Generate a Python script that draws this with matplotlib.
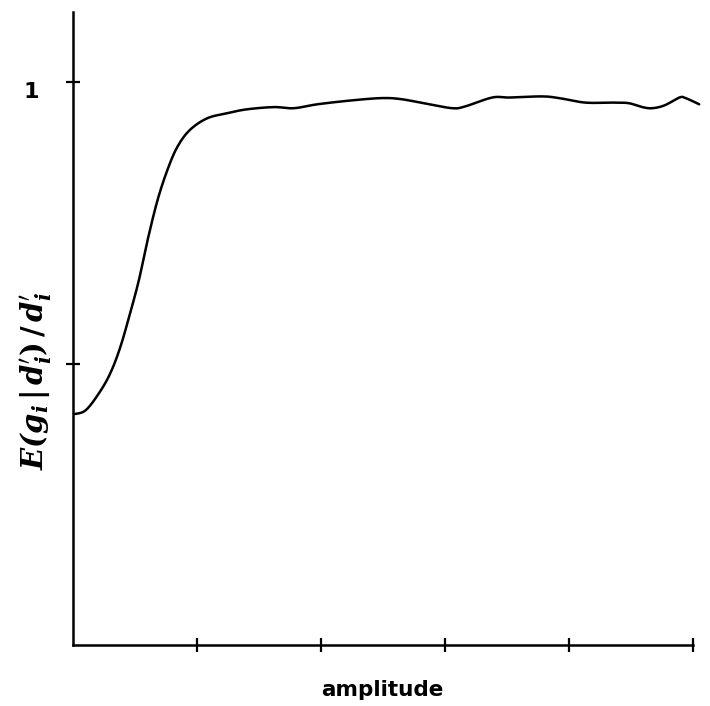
import numpy as np
import matplotlib
matplotlib.use("Agg")
import matplotlib.pyplot as plt

amplitude = [0.0, 0.10, 0.21, 0.30, 0.38, 0.46, 0.53, 0.60, 0.68, 0.76, 0.84, 0.94,
             1.08, 1.24, 1.40, 1.62, 1.78, 1.97, 2.25, 2.49, 2.65, 2.87, 3.06, 3.16,
             3.38, 3.52, 3.78, 3.92, 4.13, 4.35, 4.48, 4.59, 4.67, 4.77, 4.89, 4.94, 5.05]
ratio = [0.410, 0.417, 0.448, 0.483, 0.529, 0.590, 0.648, 0.719, 0.790, 0.844, 0.885, 0.915,
         0.936, 0.945, 0.952, 0.956, 0.954, 0.961, 0.968, 0.972, 0.970, 0.961, 0.954, 0.957,
         0.973, 0.973, 0.975, 0.972, 0.964, 0.964, 0.963, 0.956, 0.954, 0.959, 0.973, 0.972, 0.961]
x_ticks = [1, 2, 3, 4, 5]
y_ticks = [0.5, 1.0]
y_ticklabels = ["", "1"]

plt.rcParams['mathtext.fontset'] = 'dejavuserif'

fig = plt.figure(figsize=(7.1, 7.06), dpi=100)
ax = fig.add_axes([0.103, 0.0864, 0.8905, 0.8966])

xs = np.array(amplitude); ys = np.array(ratio)

def catmull(p, n=20):
    out = []
    P = np.vstack([p[0], p, p[-1]])
    for i in range(1, len(P) - 2):
        p0, p1, p2, p3 = P[i-1], P[i], P[i+1], P[i+2]
        for s in np.linspace(0, 1, n, endpoint=False):
            s2, s3 = s*s, s*s*s
            out.append(0.5*((2*p1) + (-p0+p2)*s + (2*p0-5*p1+4*p2-p3)*s2 + (-p0+3*p1-3*p2+p3)*s3))
    out.append(P[-2])
    return np.array(out)

pts = catmull(np.column_stack([xs, ys]))
ax.plot(pts[:, 0], pts[:, 1], color='black', lw=1.8, solid_capstyle='round')

ax.set_xlim(0, 5.1)
ax.set_ylim(0, 1.125)
for s in ['top', 'right']:
    ax.spines[s].set_visible(False)
ax.spines['bottom'].set_bounds(0, 5)
ax.spines['left'].set_linewidth(1.8)
ax.spines['bottom'].set_linewidth(1.8)

ax.set_xticks(x_ticks)
ax.set_xticklabels([])
ax.set_yticks(y_ticks)
ax.set_yticklabels(y_ticklabels, fontsize=16, fontweight='bold', family='DejaVu Sans')
ax.tick_params(axis='both', direction='inout', length=10, width=1.6)
ax.tick_params(axis='y', pad=25)
for lab in ax.get_yticklabels():
    lab.set_va('top')
    lab.set_ha('center')

fig.text(382 / 710, 1 - 690 / 706, 'amplitude', fontsize=15.5, fontweight='bold',
         family='DejaVu Sans', ha='center', va='center')
ylab = (r"$\mathbfit{E(g}_{\mathbfit{i}}\,\mathbf{|}\,\mathbfit{d}^{\prime}_{\mathbfit{i}}"
        r"\mathbf{)\,/\,}\mathbfit{d}^{\prime}_{\mathbfit{i}}$")
fig.text(36 / 710, 1 - 381 / 706, ylab, fontsize=21,
         rotation=90, ha='center', va='center')

fig.savefig('out.png', dpi=100)
